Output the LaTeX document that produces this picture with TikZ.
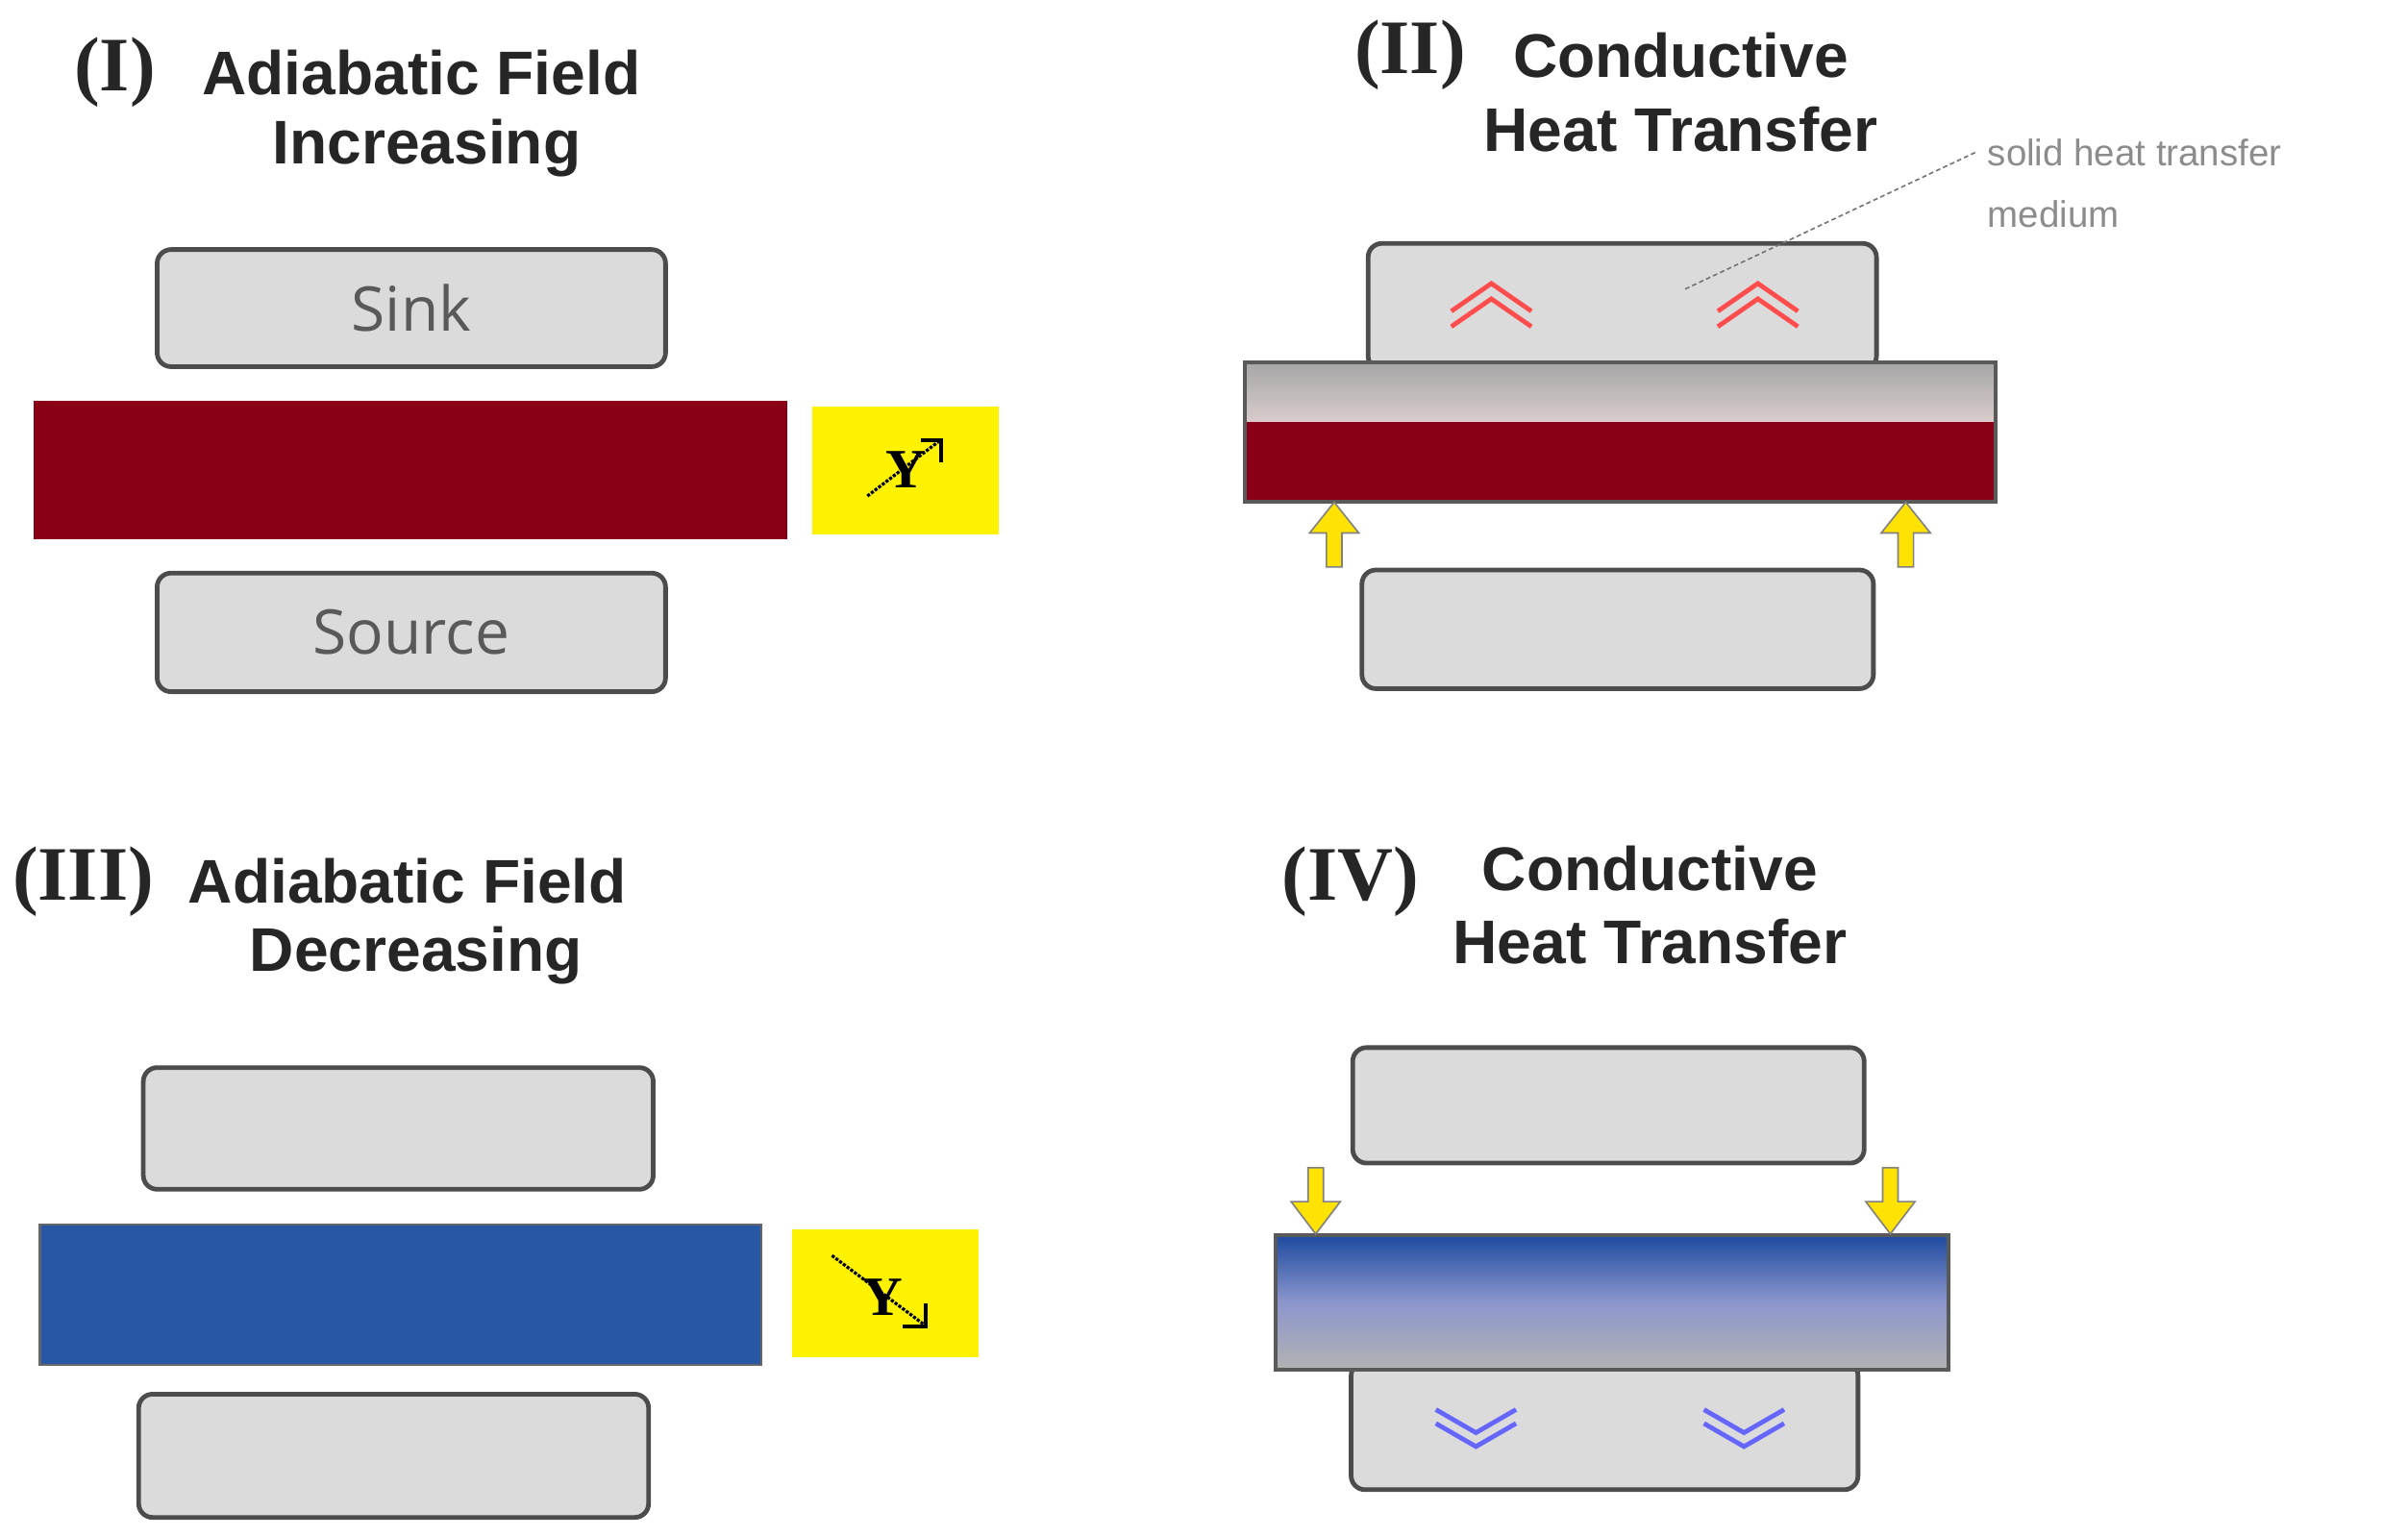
\documentclass[tikz,border=0pt]{standalone}
\usepackage{fontspec}
\setmainfont{Liberation Sans}
\newfontfamily\boxf{Open Sans}
\newfontfamily\romf{Liberation Serif}
\begin{document}
\begin{tikzpicture}[x=1pt,y=-1pt,
  plate/.style={rounded corners=9pt,fill=black!14,draw=black!70,line width=3pt},
  ttl/.style={inner sep=0pt,font=\fontsize{40}{44}\selectfont\bfseries,text=black!85},
  num/.style={inner sep=0pt,font=\fontsize{50}{54}\selectfont\romf\bfseries,text=black!85},
  lbl/.style={inner sep=0pt,font=\fontsize{40}{44}\selectfont\boxf,text=black!65},
  ybox/.style={fill=yellow,draw=none},
  yarr/.style={fill=yellow!85!orange,draw=black!50,line width=1pt},
  hotc/.style={draw=red!70!white,line width=3pt},
  coldc/.style={draw=blue!60!white,line width=3pt}]
\useasboundingbox (0,0) rectangle (1563,997);
% ---------- Panel I
\node[num,anchor=west] (n1) at (48,47) {(I)};
\node[ttl,anchor=west] (t1a) at (131,47) {Adiabatic Field};
\node[ttl] (t1b) at (277,96) {Increasing};
\draw[plate] (102,162) rectangle (432,238);
\node[lbl] (sink) at (267,200) {Sink};
\fill[fill={rgb,255:red,137;green,0;blue,22}] (22,260) rectangle (511,350);
\fill[ybox] (527,264) rectangle (648,347);
\node[inner sep=0pt,font=\fontsize{36}{36}\selectfont\romf\bfseries] (y1) at (588,305) {Y};
\coordinate (y1s) at (563,322);
\coordinate (y1e) at (610,286);
\draw[densely dotted,line width=2pt] (y1s) -- (y1e);
\draw[line width=2.5pt] (598,286) -- (611,286) -- (611,300);
\draw[plate] (102,372) rectangle (432,449);
\node[lbl] (src) at (267,410) {Source};
% ---------- Panel II
\node[num,anchor=west] (n2) at (879,36) {(II)};
\node[ttl] (t2a) at (1091,36) {Conductive};
\node[ttl] (t2b) at (1091,84) {Heat Transfer};
\node[inner sep=0pt,anchor=north west,align=left,text=black!45,font=\fontsize{24}{40}\selectfont] (med) at (1290,90) {solid heat transfer\\medium};
\coordinate (medp) at (1093,188);
\draw[plate] (888,158) rectangle (1218,240);
\shade[top color=black!35,bottom color=red!25!black!20] (808,235) rectangle (1295,274);
\fill[fill={rgb,255:red,137;green,0;blue,22}] (808,274) rectangle (1295,326);
\draw[black!65,line width=2.5pt] (808,235) rectangle (1295,326);
\draw[densely dashed,black!55,line width=1pt] (1282,99) -- (medp);
\foreach \cx in {968,1141}{
  \draw[hotc] (\cx-26,212) -- (\cx,194) -- (\cx+26,212);
  \draw[hotc] (\cx-26,202) -- (\cx,184) -- (\cx+26,202);}
\foreach \ax in {866,1237}{
  \filldraw[yarr] (\ax-5,368) -- (\ax-5,346) -- (\ax-16,346) -- (\ax,326) -- (\ax+16,346) -- (\ax+5,346) -- (\ax+5,368) -- cycle;}
\draw[plate] (884,370) rectangle (1216,447);
% ---------- Panel III
\node[num,anchor=west] (n3) at (8,572) {(III)};
\node[ttl,anchor=west] (t3a) at (122,572) {Adiabatic Field};
\node[ttl] (t3b) at (270,620) {Decreasing};
\draw[plate] (93,693) rectangle (424,772);
\fill[fill={rgb,255:red,39;green,87;blue,165}] (26,795) rectangle (494,886);
\draw[black!60,line width=1.5pt] (26,795) rectangle (494,886);
\fill[ybox] (514,798) rectangle (635,881);
\node[inner sep=0pt,font=\fontsize{36}{36}\selectfont\romf\bfseries] (y3) at (573,842) {Y};
\draw[densely dotted,line width=2pt] (540,815) -- (600,860);
\draw[line width=2.5pt] (586,861) -- (601,861) -- (601,846);
\draw[plate] (90,905) rectangle (421,985);
% ---------- Panel IV
\node[num,anchor=west] (n4) at (832,572) {(IV)};
\node[ttl] (t4a) at (1071,564) {Conductive};
\node[ttl] (t4b) at (1071,611) {Heat Transfer};
\draw[plate] (878,680) rectangle (1210,755);
\draw[plate] (877,884) rectangle (1206,967);
\shade[top color={rgb,255:red,30;green,75;blue,160},bottom color=black!30,middle color={rgb,255:red,140;green,150;blue,205}] (828,802) rectangle (1265,889);
\draw[black!65,line width=2.5pt] (828,802) rectangle (1265,889);
\foreach \cx in {958,1132}{
  \draw[coldc] (\cx-26,915) -- (\cx,930) -- (\cx+26,915);
  \draw[coldc] (\cx-26,924) -- (\cx,939) -- (\cx+26,924);}
\foreach \ax in {854,1227}{
  \filldraw[yarr] (\ax-5,758) -- (\ax-5,780) -- (\ax-16,780) -- (\ax,801) -- (\ax+16,780) -- (\ax+5,780) -- (\ax+5,758) -- cycle;}
\end{tikzpicture}
\end{document}
